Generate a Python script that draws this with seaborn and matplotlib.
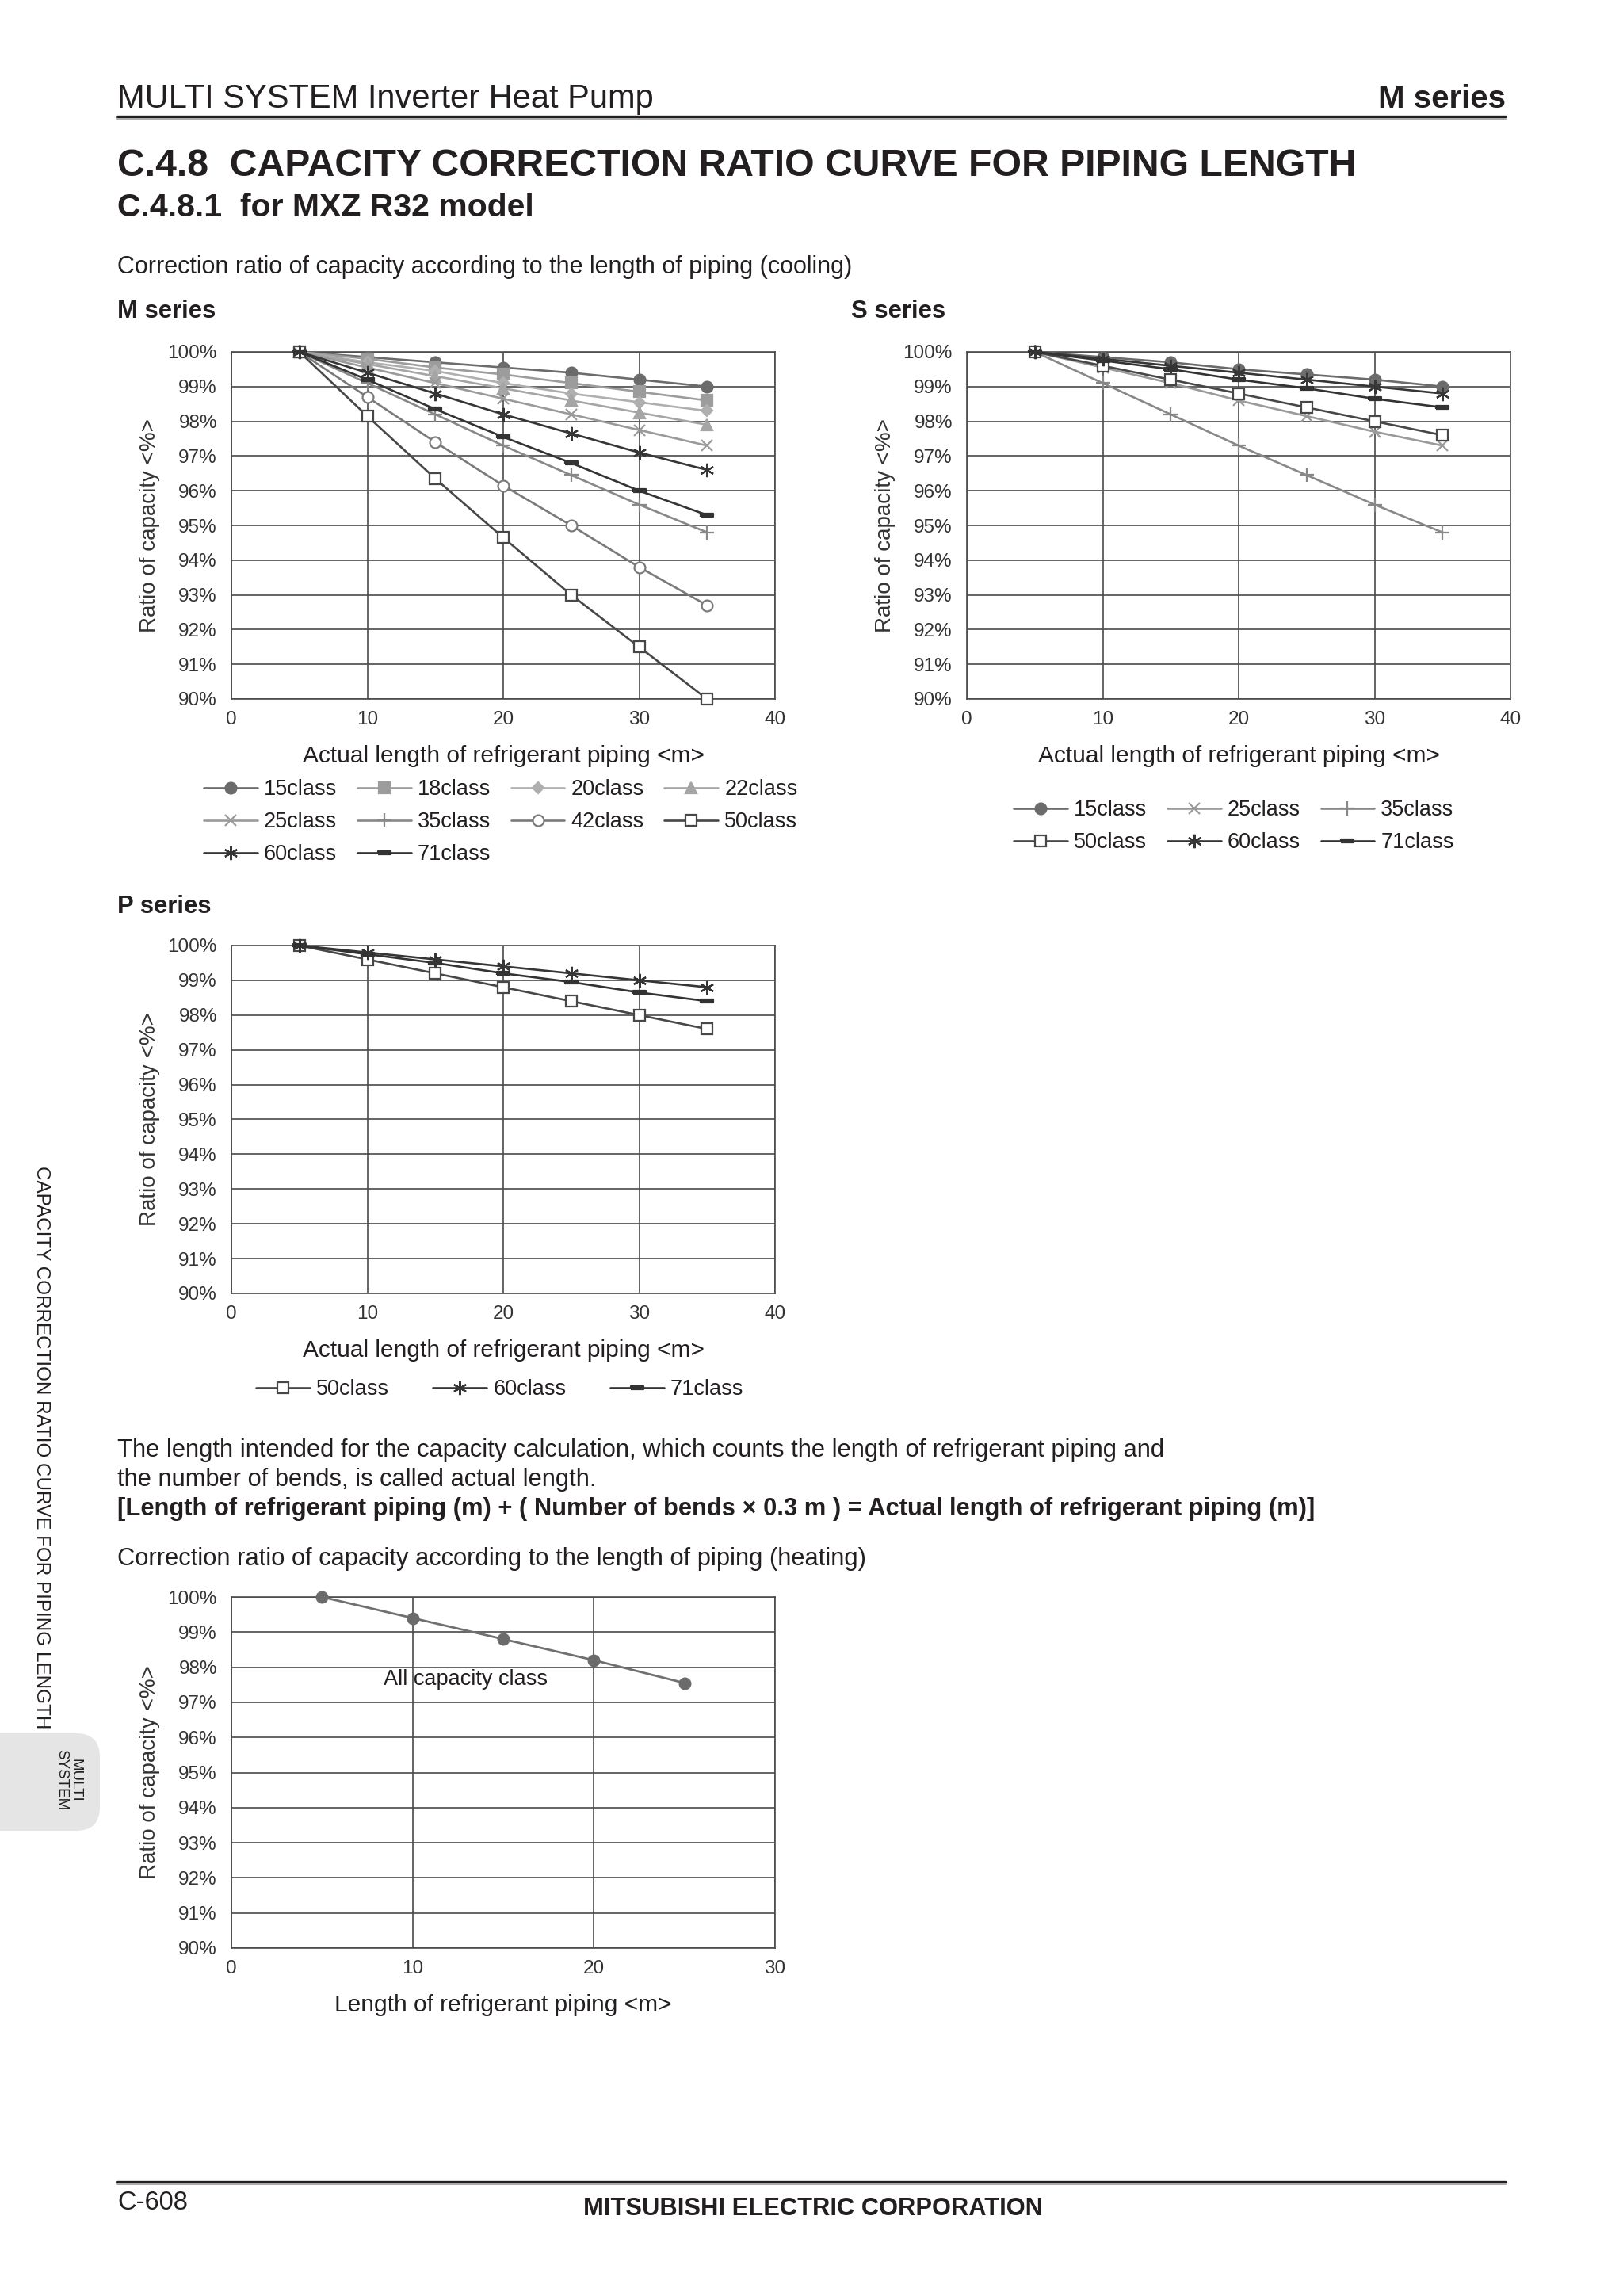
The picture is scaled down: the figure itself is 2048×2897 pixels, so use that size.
import numpy as np
import pandas as pd
import matplotlib.pyplot as plt
from matplotlib.lines import Line2D
from matplotlib.patches import FancyBboxPatch
import seaborn as sns

# ---- data ----
length = [5, 10, 15, 20, 25, 30, 35]

m_classes = ['15class', '18class', '20class', '22class', '25class',
             '35class', '42class', '50class', '60class', '71class']
m_15 = [100, 99.85, 99.7, 99.55, 99.4, 99.2, 99.0]
m_18 = [100, 99.8, 99.55, 99.35, 99.1, 98.85, 98.6]
m_20 = [100, 99.7, 99.45, 99.1, 98.8, 98.55, 98.3]
m_22 = [100, 99.65, 99.3, 98.95, 98.6, 98.25, 97.9]
m_25 = [100, 99.55, 99.1, 98.65, 98.2, 97.75, 97.3]
m_35 = [100, 99.1, 98.2, 97.3, 96.45, 95.6, 94.8]
m_42 = [100, 98.7, 97.4, 96.15, 95.0, 93.8, 92.7]
m_50 = [100, 98.15, 96.35, 94.65, 93.0, 91.5, 90.0]
m_60 = [100, 99.4, 98.8, 98.2, 97.65, 97.1, 96.6]
m_71 = [100, 99.2, 98.35, 97.55, 96.8, 96.0, 95.3]

s_classes = ['15class', '25class', '35class', '50class', '60class', '71class']
s_15 = [100, 99.85, 99.7, 99.5, 99.35, 99.2, 99.0]
s_25 = [100, 99.55, 99.1, 98.6, 98.15, 97.7, 97.3]
s_35 = [100, 99.1, 98.2, 97.3, 96.45, 95.6, 94.8]
s_50 = [100, 99.6, 99.2, 98.8, 98.4, 98.0, 97.6]
s_60 = [100, 99.8, 99.6, 99.4, 99.2, 99.0, 98.8]
s_71 = [100, 99.75, 99.5, 99.2, 98.95, 98.65, 98.4]

p_classes = ['50class', '60class', '71class']
p_50 = [100, 99.6, 99.2, 98.8, 98.4, 98.0, 97.6]
p_60 = [100, 99.8, 99.6, 99.4, 99.2, 99.0, 98.8]
p_71 = [100, 99.75, 99.5, 99.2, 98.95, 98.65, 98.4]

heat_length = [5, 10, 15, 20, 25]
heat_ratio = [100, 99.4, 98.8, 98.2, 97.55]

y_ticks = [90, 91, 92, 93, 94, 95, 96, 97, 98, 99, 100]

sns.set_style("white")
plt.rcParams['font.family'] = ['Liberation Sans', 'DejaVu Sans']

W, H = 2048, 2897
fig = plt.figure(figsize=(W / 100, H / 100), dpi=100)
TXT = '#231f20'
GRID = '#4a4a4a'

def fx(x):
    return x / W

def fy(y):
    return 1 - y / H

def box(l, t, r, b):
    return [l / W, 1 - b / H, (r - l) / W, (b - t) / H]

dash = [(-1, -0.32), (1, -0.32), (1, 0.32), (-1, 0.32), (-1, -0.32)]
styles = {
    '15class': dict(color='#6b6b6b', marker='o', mfc='#6b6b6b', ms=10),
    '18class': dict(color='#9c9c9c', marker='s', mfc='#9c9c9c', ms=9.5),
    '20class': dict(color='#afafaf', marker='D', mfc='#afafaf', ms=7.5),
    '22class': dict(color='#a5a5a5', marker='^', mfc='#a5a5a5', ms=10),
    '25class': dict(color='#9a9a9a', marker='x', mfc='none', ms=10.5),
    '35class': dict(color='#888888', marker='+', mfc='none', ms=13),
    '42class': dict(color='#7a7a7a', marker='o', mfc='white', ms=10),
    '50class': dict(color='#474747', marker='s', mfc='white', ms=10),
    '60class': dict(color='#363636', marker=(6, 2, 0), mfc='none', ms=12.5),
    '71class': dict(color='#333333', marker=dash, mfc='#333333', ms=11),
}

def setup(ax, xmax, xlabel, height):
    ax.set_xlim(0, xmax)
    ax.set_ylim(90, 100)
    ax.set_xticks(range(0, xmax + 1, 10))
    ax.set_yticks(y_ticks)
    ax.set_yticklabels([f'{v}%' for v in y_ticks])
    ax.grid(True, color=GRID, lw=1.2)
    ax.set_axisbelow(True)
    for sp in ax.spines.values():
        sp.set_color(GRID)
        sp.set_linewidth(1.2)
    ax.tick_params(length=0, labelsize=17.5, colors='#333333')
    ax.tick_params(axis='y', pad=13)
    ax.tick_params(axis='x', pad=11)
    ax.set_ylabel('Ratio of capacity <%>', fontsize=20, color='#333333')
    ax.yaxis.set_label_coords(-0.15, 0.5)
    ax.yaxis.label.set_va('center')
    ax.set_xlabel(xlabel, fontsize=21.5, color=TXT)
    ax.xaxis.label.set_va('center')
    ax.xaxis.set_label_coords(0.5, -72 / height)

def draw(ax, names, series):
    for name, ys in zip(names, series):
        st = styles[name]
        sns.lineplot(x=length, y=ys, ax=ax, color=st['color'], linewidth=1.9,
                     marker=st['marker'], markersize=st['ms'],
                     markerfacecolor=st['mfc'], markeredgecolor=st['color'],
                     markeredgewidth=1.6, label=name, clip_on=False, zorder=3)
    ax.get_legend().remove()

leg_kw = dict(loc='upper left', frameon=False, fontsize=19.5, handlelength=2.5,
              handletextpad=0.3, labelspacing=0.56, borderpad=0, borderaxespad=0,
              labelcolor=TXT)
xl = 'Actual length of refrigerant piping <m>'

# M series
axm = fig.add_axes(box(292, 444, 978, 882))
draw(axm, m_classes, [m_15, m_18, m_20, m_22, m_25, m_35, m_42, m_50, m_60, m_71])
setup(axm, 40, xl, 438)
h, l = axm.get_legend_handles_labels()
order = [0, 4, 8, 1, 5, 9, 2, 6, 3, 7]
fig.legend([h[i] for i in order], [l[i] for i in order], ncol=4,
           bbox_to_anchor=(fx(257), fy(983)), columnspacing=0.95, **leg_kw)

# S series
axs = fig.add_axes(box(1220, 444, 1906, 882))
draw(axs, s_classes, [s_15, s_25, s_35, s_50, s_60, s_71])
setup(axs, 40, xl, 438)
h, l = axs.get_legend_handles_labels()
order = [0, 3, 1, 4, 2, 5]
fig.legend([h[i] for i in order], [l[i] for i in order], ncol=3,
           bbox_to_anchor=(fx(1279), fy(1009)), columnspacing=0.95, **leg_kw)

# P series
axp = fig.add_axes(box(292, 1193, 978, 1632))
draw(axp, p_classes, [p_50, p_60, p_71])
setup(axp, 40, xl, 439)
h, l = axp.get_legend_handles_labels()
fig.legend(h, l, ncol=3, bbox_to_anchor=(fx(323), fy(1740)), columnspacing=2.05, **leg_kw)

# heating
axh = fig.add_axes(box(292, 2015, 978, 2458))
sns.lineplot(x=heat_length, y=heat_ratio, ax=axh, color='#707070', linewidth=2,
             marker='o', markersize=10.5, markerfacecolor='#6b6b6b',
             markeredgecolor='#6b6b6b', markeredgewidth=1, clip_on=False, zorder=3)
setup(axh, 30, 'Length of refrigerant piping <m>', 443)
fig.text(fx(484), fy(2119), 'All capacity class', fontsize=19.5, color=TXT, va='center')

# ---- page furniture ----
fig.text(fx(148), fy(125), 'MULTI SYSTEM Inverter Heat Pump', fontsize=30, color=TXT, va='center')
fig.text(fx(1900), fy(125), 'M series', fontsize=29, weight='bold', color=TXT, va='center', ha='right')
fig.add_artist(Line2D([fx(148), fx(1900)], [fy(147), fy(147)], color='#231f20', lw=2.4))
fig.add_artist(Line2D([fx(148), fx(1900)], [fy(150), fy(150)], color='#aaaaaa', lw=1.4))
fig.text(fx(148), fy(210), 'C.4.8  CAPACITY CORRECTION RATIO CURVE FOR PIPING LENGTH',
         fontsize=34.7, weight='bold', color=TXT, va='center')
fig.text(fx(148), fy(262), 'C.4.8.1  for MXZ R32 model', fontsize=29.5, weight='bold', color=TXT, va='center')
fig.text(fx(148), fy(337), 'Correction ratio of capacity according to the length of piping (cooling)',
         fontsize=22, color=TXT, va='center')
fig.text(fx(148), fy(393), 'M series', fontsize=22.3, weight='bold', color=TXT, va='center')
fig.text(fx(1074), fy(393), 'S series', fontsize=22.3, weight='bold', color=TXT, va='center')
fig.text(fx(148), fy(1144), 'P series', fontsize=22.3, weight='bold', color=TXT, va='center')

fig.text(fx(148), fy(1830), 'The length intended for the capacity calculation, which counts the length of refrigerant piping and',
         fontsize=22.2, color=TXT, va='center')
fig.text(fx(148), fy(1867), 'the number of bends, is called actual length.', fontsize=22.2, color=TXT, va='center')
fig.text(fx(148), fy(1904), '[Length of refrigerant piping (m) + ( Number of bends \u00d7 0.3 m ) = Actual length of refrigerant piping (m)]',
         fontsize=22.2, weight='bold', color=TXT, va='center')
fig.text(fx(148), fy(1967), 'Correction ratio of capacity according to the length of piping (heating)',
         fontsize=22.2, color=TXT, va='center')

# side tab
fig.text(fx(52), fy(1826), 'CAPACITY CORRECTION RATIO CURVE FOR PIPING LENGTH', fontsize=17.5,
         rotation=-90, color=TXT, ha='center', va='center')
tab = FancyBboxPatch((-40, H - 2310), 166, 123, boxstyle='round,pad=0,rounding_size=30',
                     fc='#e5e5e5', ec='none', transform=None)
fig.add_artist(tab)
fig.text(fx(86), fy(2246), 'MULTI\nSYSTEM', fontsize=13.5, rotation=-90, color=TXT,
         ha='center', va='center', linespacing=1.0)

# footer
fig.add_artist(Line2D([fx(148), fx(1900)], [fy(2753), fy(2753)], color='#231f20', lw=2.4))
fig.add_artist(Line2D([fx(148), fx(1900)], [fy(2756), fy(2756)], color='#aaaaaa', lw=1.4))
fig.text(fx(148), fy(2779), 'C-608', fontsize=23.5, color=TXT, va='center')
fig.text(fx(1026), fy(2787), 'MITSUBISHI ELECTRIC CORPORATION', fontsize=22.2, weight='bold',
         color=TXT, ha='center', va='center')

fig.savefig('out.png', dpi=100, facecolor='white')
